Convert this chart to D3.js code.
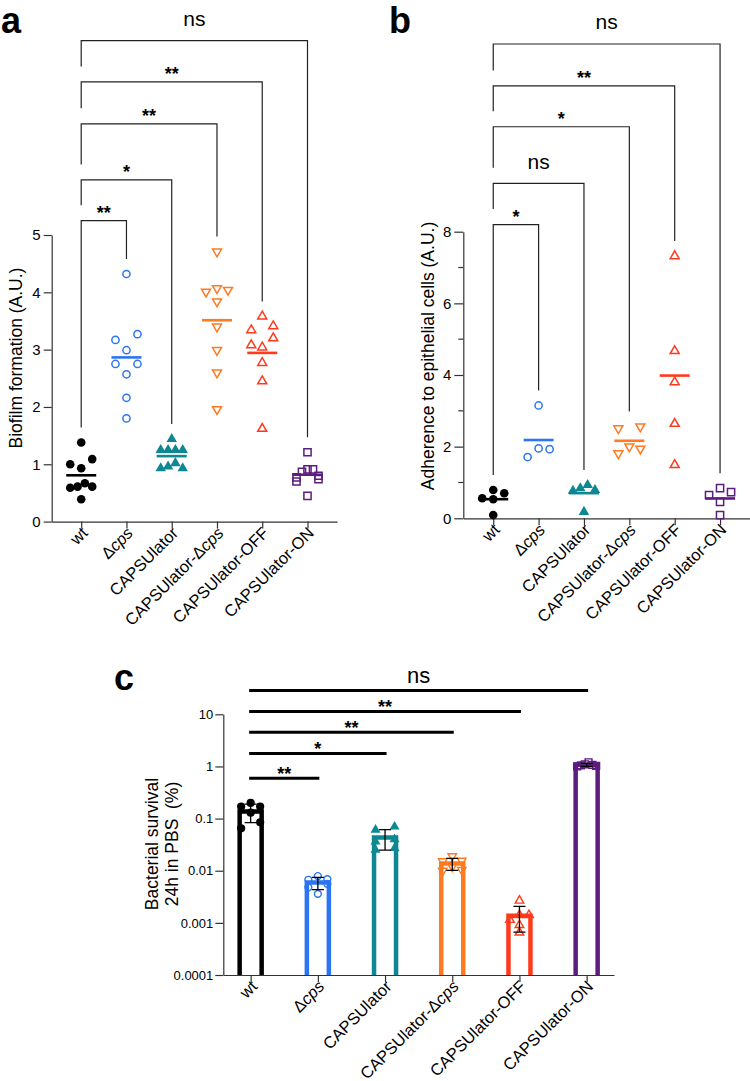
<!DOCTYPE html>
<html>
<head>
<meta charset="utf-8">
<script src="https://cdn.jsdelivr.net/npm/d3@7/dist/d3.min.js"></script>
<style>
  html,body{margin:0;padding:0;background:#fff;}
  svg{display:block;}
  text{font-family:"Liberation Sans",Arial,Helvetica,sans-serif;fill:#000;}
</style>
</head>
<body>
<svg id="chart" width="750" height="1081" xmlns="http://www.w3.org/2000/svg"></svg>
<script>
// ---------------- data ----------------
const categories = ["wt","Δcps","CAPSUlator","CAPSUlator-Δcps","CAPSUlator-OFF","CAPSUlator-ON"];
const groupColors = ["#000000","#2b74f2","#0d8791","#ff7b22","#ff3a1c","#5b1d7e"];
const markerKinds = ["dot","circle","triFilled","triDown","triUp","square"];

// a: biofilm formation (A.U.)
const biofilmWt       = [1.38,1.09,1.00,0.93,0.67,0.61,0.61,0.59,0.39];
const biofilmDcps     = [4.32,3.27,3.17,2.99,2.75,2.75,2.57,2.16,1.80];
const biofilmCaps     = [1.44,1.25,1.25,1.25,1.25,1.02,0.96,0.93,0.93];
const biofilmCapsDcps = [4.71,4.07,4.04,4.01,3.84,3.40,2.99,2.60,1.96];
const biofilmOff      = [3.58,3.41,3.34,3.20,3.08,3.04,2.77,2.45,1.62];
const biofilmOn       = [1.21,0.91,0.91,0.87,0.80,0.77,0.74,0.70,0.45];
const biofilmTicks    = [0,1,2,3,4,5];
const biofilmSig      = ["**","*","**","**","ns"];
const biofilmBracketLevels = [5.25,5.96,6.94,7.67,8.39];

// b: adherence to epithelial cells (A.U.)
const adhWt       = [0.79,0.70,0.56,0.53,0.09];
const adhDcps     = [3.15,1.95,1.93,1.71];
const adhCaps     = [0.93,0.84,0.79,0.77,0.18];
const adhCapsDcps = [2.56,2.51,2.00,1.94,1.81];
const adhOff      = [7.32,4.67,3.80,2.64,1.49];
const adhOn       = [0.84,0.73,0.65,0.46,0.09];
const adhTicks      = [0,2,4,6,8];
const adhMinorTicks = [1,3,5,7];
const adhSig      = ["*","ns","*","**","ns"];
const adhBracketLevels = [8.2,9.35,10.93,12.07,13.24];

// c: bacterial survival 24h in PBS (%)
const survWt       = [0.20,0.17,0.17,0.13,0.085,0.065];
const survDcps     = [0.0079,0.0069,0.0067,0.0056,0.0048,0.0036];
const survCaps     = [0.070,0.061,0.040,0.036,0.027,0.025];
const survCapsDcps = [0.0190,0.0156,0.0152,0.0120,0.0103,0.0100];
const survOff      = [0.00267,0.00141,0.00141,0.00114,0.00091,0.00065];
const survOn       = [1.20,1.10,1.07,1.05,1.02,1.00];
const survTicks      = [0.0001,0.001,0.01,0.1,1,10];
const survTickLabels = ["0.0001","0.001","0.01","0.1","1","10"];
const survSig      = ["**","*","**","**","ns"];
const survBracketLevels = [0.596,1.77,4.55,11.3,28.6];

// ---------------- helpers ----------------
const svg = d3.select("#chart");
const AX = "#333";
const FONT = '"Liberation Sans",Arial,Helvetica,sans-serif';

function catLabel(sel, name) {
  const i = name.indexOf("Δ");
  if (i < 0) { sel.text(name); return; }
  sel.append("tspan").text(name.slice(0, i + 1));
  sel.append("tspan").attr("font-style", "italic").text(name.slice(i + 1));
}

function marker(g, kind, color, k, cx, cy) {
  let type = d3.symbolCircle, area, fill = "none", stroke = color, rot = 0;
  switch (kind) {
    case "dot": area = Math.PI * (4.3 * k) ** 2; fill = color; stroke = "none"; break;
    case "circle": area = Math.PI * (3.6 * k) ** 2; break;
    case "triFilled": type = d3.symbolTriangle; area = Math.sqrt(3) / 4 * (10.5 * k) ** 2; fill = color; stroke = "none"; break;
    case "triDown": type = d3.symbolTriangle; area = Math.sqrt(3) / 4 * (9 * k) ** 2; rot = 180; break;
    case "triUp": type = d3.symbolTriangle; area = Math.sqrt(3) / 4 * (9 * k) ** 2; break;
    case "square": type = d3.symbolSquare; area = (7.2 * k) ** 2; break;
  }
  g.append("path")
    .attr("d", d3.symbol(type, area)())
    .attr("transform", `translate(${cx},${cy}) rotate(${rot})`)
    .attr("fill", fill).attr("stroke", stroke).attr("stroke-width", 1.5 * k);
}

// GraphPad-like row spreading: points of similar height form a row, centred on the category
function swarm(values, yScale, tol, half) {
  const pts = values.map((v, i) => ({ v, i, py: yScale(v) })).sort((a, b) => a.py - b.py);
  const out = new Array(values.length);
  let row = [];
  const flush = () => {
    const n = row.length, slots = [];
    if (n === 1) slots.push(0);
    else { const s = 2 * half / (n - 1); for (let k = 0; k < n; k++) slots.push(-half + k * s); }
    slots.sort((a, b) => Math.abs(a) - Math.abs(b) || b - a);
    row.forEach((p, k) => out[p.i] = { v: p.v, py: p.py, dx: slots[k] });
    row = [];
  };
  pts.forEach(p => { if (row.length && p.py - row[0].py >= tol) flush(); row.push(p); });
  if (row.length) flush();
  return out;
}

function styleAxis(a, fs) {
  a.selectAll("path,line").attr("stroke", AX).attr("stroke-width", 1.2);
  a.selectAll("text").attr("font-size", fs).attr("fill", "#000").attr("font-family", FONT);
}

function xLabels(g, x, yAxis) {
  categories.forEach(c => {
    const t = g.append("text")
      .attr("transform", `translate(${x(c) + 7.5},${yAxis + 12.5}) rotate(-45)`)
      .attr("text-anchor", "end").attr("font-size", 16.5);
    catLabel(t, c);
  });
}

function sigText(g, label, cx, lineY, asterOff, nsOff, nsSize) {
  const isNs = label === "ns";
  g.append("text").attr("x", cx).attr("y", isNs ? lineY - nsOff : lineY - asterOff)
    .attr("text-anchor", "middle")
    .attr("font-size", isNs ? nsSize : 18)
    .attr("font-weight", isNs ? "normal" : "bold")
    .text(label);
}

// ---------------- scatter panels (a, b) ----------------
function scatterPanel(o) {
  const g = svg.append("g");
  const x = d3.scalePoint().domain(categories).range([o.x0, o.x1]).padding(o.pad);
  const y = d3.scaleLinear().domain([0, o.yMax]).range([o.yBottom, o.yTop]);

  // brackets
  const xw = x(categories[0]);
  const maxPx = o.data.map(d => y(d3.max(d)));
  o.sig.forEach((lab, i) => {
    const j = i + 1, xj = x(categories[j]);
    const ly = y(o.levels[i]);
    const leftEnd = i === 0 ? maxPx[0] - 15 : y(o.levels[i - 1]) - 15.5;
    g.append("path")
      .attr("d", `M${xw},${leftEnd}V${ly}H${xj}V${maxPx[j] - 15}`)
      .attr("fill", "none").attr("stroke", "#222").attr("stroke-width", 1.2);
    sigText(g, lab, (xw + xj) / 2, ly, 2, 14.8, 21);
  });

  // axes
  const ya = g.append("g").attr("transform", `translate(${o.x0},0)`)
    .call(d3.axisLeft(y).tickValues(o.ticks).tickSize(o.tickLen).tickSizeOuter(0).tickPadding(3).tickFormat(d3.format("d")));
  styleAxis(ya, 15);
  if (o.minor) {
    ya.selectAll(".minor").data(o.minor).enter().append("line")
      .attr("x1", -5).attr("x2", 0).attr("y1", d => y(d)).attr("y2", d => y(d))
      .attr("stroke", AX).attr("stroke-width", 1.2);
  }
  const xa = g.append("g").attr("transform", `translate(0,${o.yBottom})`)
    .call(d3.axisBottom(x).tickSize(7).tickSizeOuter(0).tickFormat(""));
  styleAxis(xa, 16.5);
  xLabels(g, x, o.yBottom);

  // points + mean lines
  o.data.forEach((vals, gi) => {
    const c = categories[gi], cx = x(c), col = groupColors[gi];
    swarm(vals, y, 9, 11).forEach(p => marker(g, markerKinds[gi], col, 1, cx + p.dx, p.py));
    const m = y(d3.mean(vals));
    g.append("line").attr("x1", cx - 15).attr("x2", cx + 15).attr("y1", m).attr("y2", m)
      .attr("stroke", col).attr("stroke-width", 2.6);
  });

  // y title
  g.append("text").attr("transform", `translate(${o.titleX},${o.titleY}) rotate(-90)`)
    .attr("text-anchor", "middle").attr("font-size", 17.5).text(o.title);
  // panel letter
  g.append("text").attr("x", o.letterX).attr("y", o.letterY)
    .attr("font-size", 36).attr("font-weight", "bold").text(o.letter);
}

scatterPanel({
  x0: 51.7, x1: 337, pad: 0.652, yMax: 5, yBottom: 521.6, yTop: 235,
  ticks: biofilmTicks, tickLen: 8,
  data: [biofilmWt, biofilmDcps, biofilmCaps, biofilmCapsDcps, biofilmOff, biofilmOn],
  sig: biofilmSig, levels: biofilmBracketLevels,
  title: "Biofilm formation (A.U.)", titleX: 22, titleY: 358,
  letter: "a", letterX: 1, letterY: 33
});

scatterPanel({
  x0: 463.3, x1: 750, pad: 0.66, yMax: 8, yBottom: 518.3, yTop: 231.7,
  ticks: adhTicks, minor: adhMinorTicks, tickLen: 9,
  data: [adhWt, adhDcps, adhCaps, adhCapsDcps, adhOff, adhOn],
  sig: adhSig, levels: adhBracketLevels,
  title: "Adherence to epithelial cells (A.U.)", titleX: 434, titleY: 356,
  letter: "b", letterX: 389, letterY: 33
});

// ---------------- bar panel (c) ----------------
(function () {
  const g = svg.append("g");
  const x0 = 223.3, x1 = 614, yB = 975, yT = 714.3;
  const x = d3.scalePoint().domain(categories).range([x0, x1]).padding(0.407);
  const y = d3.scaleLog().domain([1e-4, 10]).range([yB, yT]);
  const data = [survWt, survDcps, survCaps, survCapsDcps, survOff, survOn];

  // bars (open, thick outline, no bottom edge)
  data.forEach((vals, gi) => {
    const cx = x(categories[gi]), m = y(d3.mean(vals));
    g.append("path").attr("d", `M${cx - 11},${yB}V${m}H${cx + 11}V${yB}`)
      .attr("fill", "#fff").attr("stroke", groupColors[gi]).attr("stroke-width", 4.5)
      .attr("stroke-linejoin", "miter");
  });

  // axes
  const ya = g.append("g").attr("transform", `translate(${x0},0)`)
    .call(d3.axisLeft(y).tickValues(survTicks).tickSize(8).tickSizeOuter(0).tickPadding(2)
      .tickFormat((d, i) => survTickLabels[i]));
  styleAxis(ya, 13);
  const xa = g.append("g").attr("transform", `translate(0,${yB})`)
    .call(d3.axisBottom(x).tickSize(7).tickSizeOuter(0).tickFormat(""));
  styleAxis(xa, 16.5);
  xLabels(g, x, yB);

  // points
  data.forEach((vals, gi) => {
    const cx = x(categories[gi]);
    swarm(vals, y, 7, 9.5).forEach(p => marker(g, markerKinds[gi], groupColors[gi], 0.95, cx + p.dx, p.py));
  });

  // error bars (mean ± SD)
  data.forEach((vals, gi) => {
    const cx = x(categories[gi]), m = d3.mean(vals), sd = d3.deviation(vals);
    const yh = y(m + sd), yl = y(Math.max(m - sd, 1e-4));
    g.append("path").attr("d", `M${cx - 6},${yh}H${cx + 6}M${cx},${yh}V${yl}M${cx - 6},${yl}H${cx + 6}`)
      .attr("fill", "none").attr("stroke", "#000").attr("stroke-width", 1.3);
  });

  // significance lines
  const xw = x(categories[0]);
  survSig.forEach((lab, i) => {
    const xj = x(categories[i + 1]), ly = y(survBracketLevels[i]);
    g.append("line").attr("x1", xw).attr("x2", xj).attr("y1", ly).attr("y2", ly)
      .attr("stroke", "#000").attr("stroke-width", 3).attr("stroke-linecap", "square");
    sigText(g, lab, (xw + xj) / 2, ly, -1.9, 7.2, 22);
  });

  // y title (two lines)
  g.append("text").attr("transform", `translate(158,844) rotate(-90)`)
    .attr("text-anchor", "middle").attr("font-size", 17.5).text("Bacterial survival");
  g.append("text").attr("transform", `translate(177.5,844) rotate(-90)`)
    .attr("text-anchor", "middle").attr("font-size", 17.5).style("white-space", "pre").text("24h in PBS  (%)");

  g.append("text").attr("x", 114).attr("y", 690).attr("font-size", 36).attr("font-weight", "bold").text("c");
})();
</script>
</body>
</html>
